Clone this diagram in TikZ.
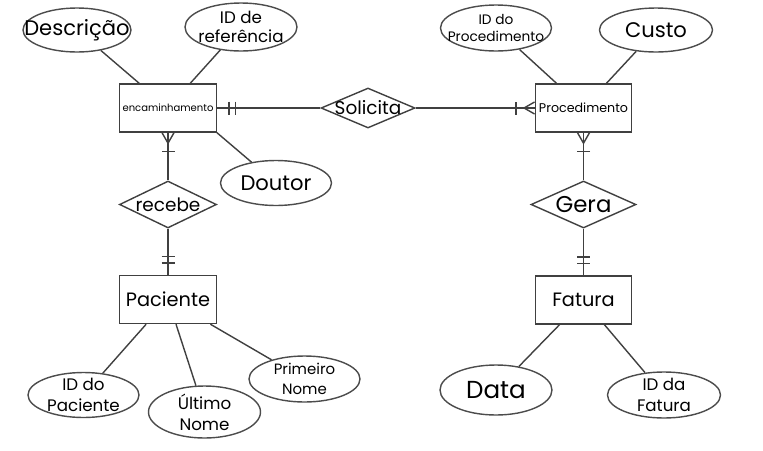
\documentclass[tikz,border=0pt]{standalone}
\usepackage{fontspec}
\setmainfont{Poppins}
\usetikzlibrary{positioning,shapes.geometric}

\tikzset{
  entity/.style={draw=black!75, line width=0.8pt, minimum width=1.93cm, minimum height=0.96cm, inner sep=0pt},
  attrib/.style={ellipse, draw=black!70, line width=0.8pt, minimum width=2.22cm, minimum height=0.9cm,
    inner xsep=-1.5cm, inner ysep=-0.6cm, align=center},
  rel/.style={diamond, draw=black!75, line width=0.8pt, inner xsep=-1.5cm, inner ysep=-0.6cm},
  link/.style={draw=black!75, line width=0.8pt},
  crowfoot/.pic={
    \draw[link] (0,0.12) -- (0.21,0) -- (0,-0.12);
    \draw[link] (0.37,0.13) -- (0.37,-0.13);
  },
  onlyone/.pic={
    \draw[link] (0.24,0.13) -- (0.24,-0.13);
    \draw[link] (0.37,0.13) -- (0.37,-0.13);
  }
}

\begin{document}
\begin{tikzpicture}[on grid]
\useasboundingbox (0,0) rectangle (15.26,-9.0);
% entities
\node[entity, font=\fontsize{5.7}{7}\selectfont] (enc) at (3.36,-2.16) {encaminhamento};
\node[entity, right=8.31cm of enc, font=\fontsize{7.2}{9}\selectfont] (proc) {Procedimento};
\node[entity, below=3.83cm of enc, font=\fontsize{11}{13}\selectfont] (pac) {Paciente};
\node[entity, below=3.84cm of proc, font=\fontsize{11}{13}\selectfont] (fat) {Fatura};
% relationships
\node[rel, right=4cm of enc, minimum width=1.88cm, minimum height=0.8cm, font=\fontsize{10.5}{12}\selectfont] (sol) {Solicita};
\node[rel, below=1.93cm of enc, minimum width=1.94cm, minimum height=0.94cm, font=\fontsize{10.5}{12}\selectfont] (rec) {recebe};
\node[rel, below=1.93cm of proc, minimum width=2.1cm, minimum height=0.94cm, font=\fontsize{13}{15}\selectfont] (gera) {Gera};
% attributes
\node[attrib, above left=1.56cm and 1.82cm of enc, minimum width=2.16cm, minimum height=0.88cm, font=\fontsize{12}{14}\selectfont] (desc) {Descrição};
\node[attrib, above right=1.62cm and 1.46cm of enc, minimum width=2.24cm, minimum height=0.96cm, font=\fontsize{9.5}{11}\selectfont] (idref) {ID de\\referência};
\node[attrib, below right=1.5cm and 2.16cm of enc, font=\fontsize{12}{14}\selectfont] (dout) {Doutor};
\node[attrib, above left=1.6cm and 1.75cm of proc, minimum height=0.92cm, font=\fontsize{7.8}{10}\selectfont] (idproc) {ID do\\Procedimento};
\node[attrib, above right=1.56cm and 1.45cm of proc, minimum width=2.26cm, minimum height=0.88cm, font=\fontsize{12}{14}\selectfont] (custo) {Custo};
\node[attrib, below left=1.91cm and 1.69cm of pac, font=\fontsize{9.5}{12}\selectfont] (idpac) {ID do\\Paciente};
\node[attrib, below right=2.25cm and 0.73cm of pac, minimum width=2.24cm, minimum height=1.04cm, font=\fontsize{9.5}{12}\selectfont] (ult) {Último\\Nome};
\node[attrib, below right=1.59cm and 2.73cm of pac, minimum height=0.92cm, font=\fontsize{8.5}{11}\selectfont] (prim) {Primeiro\\Nome};
\node[attrib, below left=1.8cm and 1.75cm of fat, minimum width=2.24cm, minimum height=1.0cm, font=\fontsize{14}{16}\selectfont] (data) {Data};
\node[attrib, below right=1.9cm and 1.61cm of fat, minimum width=2.26cm, minimum height=0.92cm, font=\fontsize{9.5}{12}\selectfont] (idfat) {ID da\\Fatura};
% relationship lines
\draw[link] (enc.east) -- (sol.west);
\draw[link] (sol.east) -- (proc.west);
\draw[link] (enc.south) -- (rec.north);
\draw[link] (rec.south) -- (pac.north);
\draw[link] (proc.south) -- (gera.north);
\draw[link] (gera.south) -- (fat.north);
\pic[rotate=0] at (enc.east) {onlyone};
\pic[rotate=180] at (proc.west) {crowfoot};
\pic[rotate=-90] at (enc.south) {crowfoot};
\pic[rotate=90] at (pac.north) {onlyone};
\pic[rotate=-90] at (proc.south) {crowfoot};
\pic[rotate=90] at (fat.north) {onlyone};
% attribute lines
\draw[link] (desc) -- (enc);
\draw[link] (idref) -- (enc);
\draw[link] (dout) -- (enc.south east);
\draw[link] (idproc) -- (proc);
\draw[link] (custo) -- (proc);
\draw[link] (idpac) -- (pac);
\draw[link] (ult) -- (pac);
\draw[link] (prim) -- (pac);
\draw[link] (data) -- (fat);
\draw[link] (idfat) -- (fat);
\end{tikzpicture}
\end{document}
